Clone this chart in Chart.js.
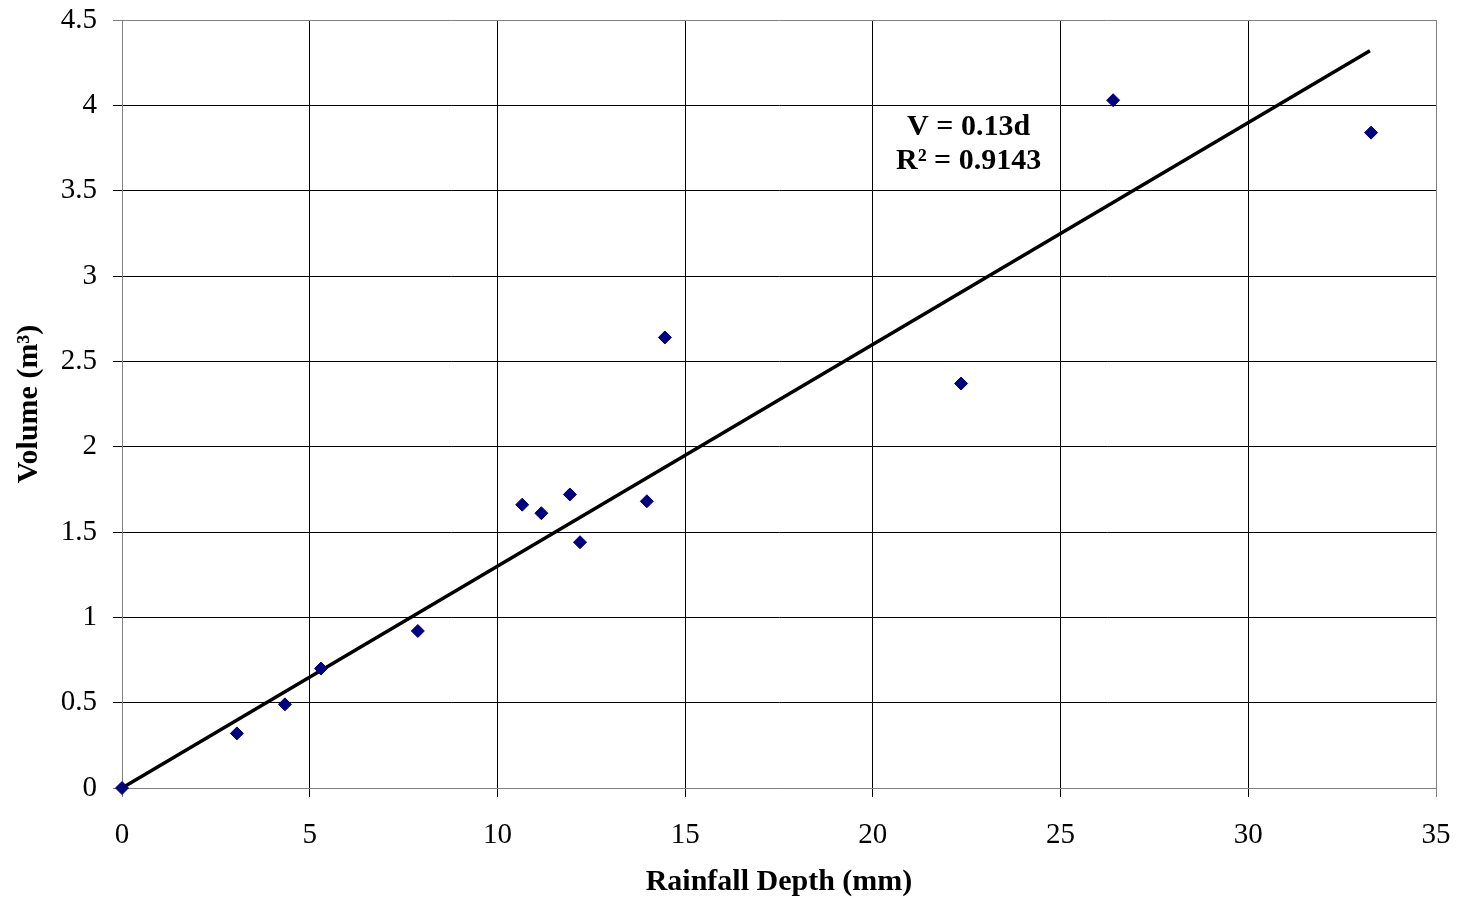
<!DOCTYPE html>
<html>
<head>
<meta charset="utf-8">
<title>Rainfall Depth vs Volume</title>
<script src="https://cdn.jsdelivr.net/npm/chart.js@4/dist/chart.umd.min.js"></script>
<style>
    body { margin: 0; background: #fff; }
    #wrap { width: 1470px; height: 898px; position: relative; }
</style>
</head>
<body>
<div id="wrap"><canvas id="graficoVolumen"></canvas></div>
<script>
// datos
const rainfallDepth = [0, 3.06, 4.34, 5.30, 7.88, 10.66, 11.17, 11.93, 12.20, 13.98, 14.46, 22.35, 26.40, 33.27];
const volume = [0, 0.32, 0.49, 0.70, 0.92, 1.66, 1.61, 1.72, 1.44, 1.68, 2.64, 2.37, 4.03, 3.84];

// linea de tendencia V = 0.13d
const trendX = [0, 33.24];
const trendY = [0, 4.32];

const xTicks = [0, 5, 10, 15, 20, 25, 30, 35];
const yTicks = [0, 0.5, 1, 1.5, 2, 2.5, 3, 3.5, 4, 4.5];
const equationLines = ['V = 0.13d', 'R\u00b2 = 0.9143'];

document.addEventListener('DOMContentLoaded', function(){
    Chart.defaults.font.family = "'Liberation Serif', 'Times New Roman', serif";
    Chart.defaults.color = '#000';

    const gridColor = (min, max) => ctx => {
        const v = ctx.tick ? ctx.tick.value : null;
        return (v === min || v === max) ? '#808080' : '#000';
    };

    // texto de la ecuacion
    const equationPlugin = {
        id: 'equation',
        afterDatasetsDraw(chart, args, opts) {
            const c = chart.ctx;
            const px = chart.scales.x.getPixelForValue(opts.x);
            const py = chart.scales.y.getPixelForValue(opts.y);
            c.save();
            c.font = "bold 30px 'Liberation Serif', 'Times New Roman', serif";
            c.fillStyle = '#000';
            c.textAlign = 'center';
            c.textBaseline = 'middle';
            equationLines.forEach((t, i) => c.fillText(t, px, py + i * 34.5));
            c.restore();
        }
    };

    const ctx = document.getElementById('graficoVolumen').getContext('2d');
    new Chart(ctx, {
        type: 'scatter',
        data: {
            datasets: [
                {
                    label: 'Volume',
                    data: rainfallDepth.map((d, i) => ({x: d, y: volume[i]})),
                    pointStyle: 'rectRot',
                    pointRadius: 6.5,
                    pointHoverRadius: 6.5,
                    backgroundColor: '#000080',
                    borderColor: '#000080',
                    borderWidth: 1,
                    clip: false,
                    order: 1
                },
                {
                    label: 'Trend',
                    type: 'line',
                    data: trendX.map((d, i) => ({x: d, y: trendY[i]})),
                    borderColor: '#000',
                    borderWidth: 3.5,
                    pointRadius: 0,
                    fill: false,
                    clip: false,
                    order: 2
                }
            ]
        },
        options: {
            responsive: true,
            maintainAspectRatio: false,
            animation: false,
            layout: { padding: { top: 20, right: 34, left: 0, bottom: 0 } },
            plugins: {
                legend: { display: false },
                tooltip: { enabled: false },
                equation: { x: 22.55, y: 3.872 }
            },
            scales: {
                x: {
                    type: 'linear',
                    min: 0,
                    max: 35,
                    afterBuildTicks: s => { s.ticks = xTicks.map(v => ({value: v})); },
                    afterFit: s => { s.height = 110; s.paddingLeft = 0; s.paddingRight = 0; },
                    grid: { color: gridColor(0, 35), lineWidth: 1, tickLength: 9 },
                    border: { color: '#808080', width: 1 },
                    ticks: { font: { size: 29 }, padding: 21, maxRotation: 0, callback: v => String(v) },
                    title: {
                        display: true,
                        text: 'Rainfall Depth (mm)',
                        font: { size: 30, weight: 'bold' },
                        padding: { top: 0, bottom: -2 }
                    }
                },
                y: {
                    type: 'linear',
                    min: 0,
                    max: 4.5,
                    afterBuildTicks: s => { s.ticks = yTicks.map(v => ({value: v})); },
                    afterFit: s => { s.width = 122; s.paddingTop = 0; s.paddingBottom = 0; },
                    grid: { color: gridColor(0, 4.5), lineWidth: 1, tickLength: 9 },
                    border: { color: '#808080', width: 1 },
                    ticks: { font: { size: 29 }, padding: 16, callback: v => String(v) },
                    title: {
                        display: true,
                        text: 'Volume (m\u00b3)',
                        font: { size: 30, weight: 'bold' },
                        padding: { top: 11, bottom: 0 }
                    }
                }
            }
        },
        plugins: [equationPlugin]
    });
});
</script>
</body>
</html>
